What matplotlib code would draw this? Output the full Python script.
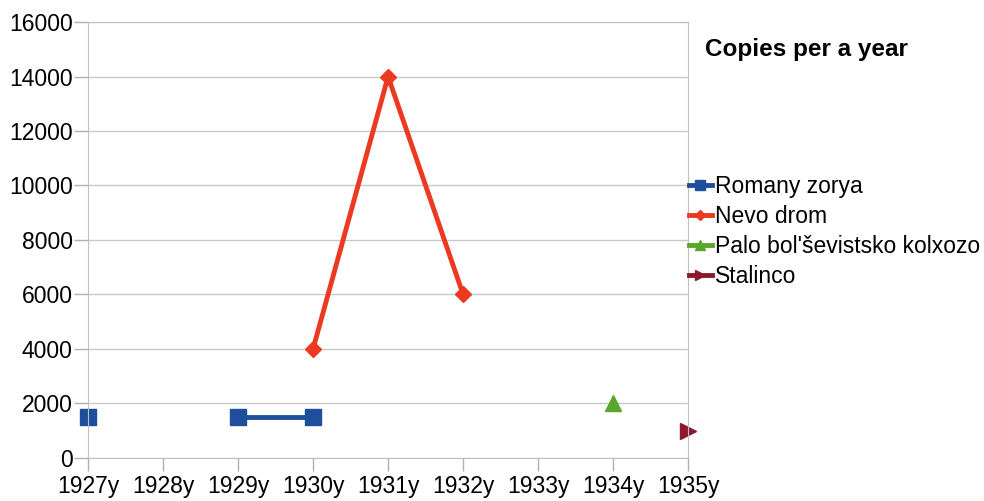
import matplotlib.pyplot as plt
import numpy as np

years = ["1927y", "1928y", "1929y", "1930y", "1931y", "1932y", "1933y", "1934y", "1935y"]
romany_zorya = [1500, None, 1500, 1500, None, None, None, None, None]
nevo_drom = [None, None, None, 4000, 14000, 6000, None, None, None]
palo = [None, None, None, None, None, None, None, 2000, None]
stalinco = [None, None, None, None, None, None, None, None, 1000]

plt.rcParams['font.family'] = ['Liberation Sans', 'DejaVu Sans']


def as_arr(vals):
    return np.array([np.nan if v is None else v for v in vals], dtype=float)


fig = plt.figure(figsize=(9.84, 5.01), dpi=100)
ax = fig.add_axes([0.0894, 0.086, 0.610, 0.870])
x = np.arange(len(years))

ax.plot(x, as_arr(romany_zorya), color="#1f4f9c", lw=3.5, marker="s", ms=11, label="Romany zorya", clip_on=False)
ax.plot(x, as_arr(nevo_drom), color="#ec3a22", lw=3.5, marker="D", ms=8, label="Nevo drom", clip_on=False)
ax.plot(x, as_arr(palo), color="#5aa62c", lw=3.5, marker="^", ms=11, label="Palo bol'ševistsko kolxozo", clip_on=False)
ax.plot(x, as_arr(stalinco), color="#8c1a2c", lw=3.5, marker=">", ms=11, label="Stalinco", clip_on=False)

ax.set_xlim(0, len(years) - 1)
ax.set_ylim(0, 16000)
ax.set_xticks(x)
ax.set_xticklabels(years)
ax.set_yticks(np.arange(0, 16001, 2000))
ax.tick_params(labelsize=16.5, color="#b0b0b0", width=1)
ax.tick_params(axis="x", length=9, pad=3)
ax.tick_params(axis="y", length=10, pad=1)
ax.yaxis.grid(True, color="#c8c8c8", lw=1)
ax.set_axisbelow(True)
for s in ax.spines.values():
    s.set_color("#c0c0c0")

fig.text(0.716, 0.889, "Copies per a year", fontsize=17.5, fontweight="bold")
fig.legend(loc="upper left", bbox_to_anchor=(0.700, 0.650), frameon=False, fontsize=16.5,
           handlelength=1.0, handletextpad=0.15, labelspacing=0.3, markerscale=0.6,
           borderaxespad=0, borderpad=0)

fig.savefig("out.png", dpi=100)
